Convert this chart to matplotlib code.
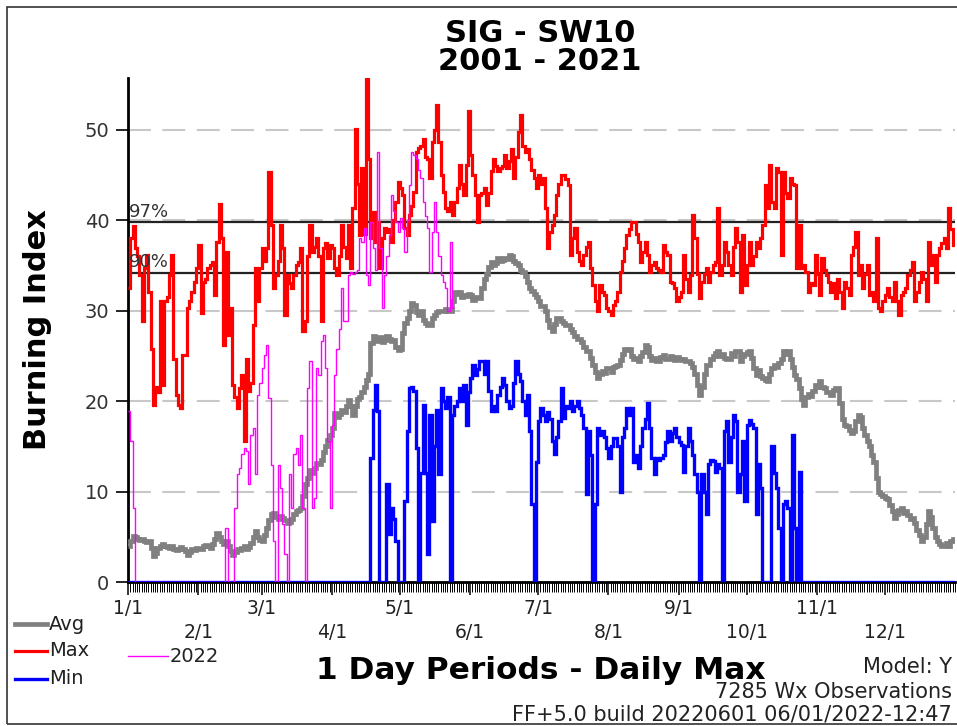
import numpy as np
import matplotlib
matplotlib.use("Agg")
import matplotlib.pyplot as plt
from matplotlib.lines import Line2D
from matplotlib.patches import Rectangle

# ---- data (one value per day, Jan 1 = day 0) ----
month_starts = [0, 31, 59, 90, 120, 151, 181, 212, 243, 273, 304, 334]
month_labels = ['1/1', '2/1', '3/1', '4/1', '5/1', '6/1',
                '7/1', '8/1', '9/1', '10/1', '11/1', '12/1']
yticks = [0, 10, 20, 30, 40, 50]
pct_levels = [39.8, 34.2]
pct_labels = ['97%', '90%']

avg_bi = [
    4.0, 4.5, 5.1, 5.0, 4.8, 4.6, 4.7, 4.5, 4.4, 4.5,
    3.8, 2.9, 3.2, 3.8, 4.0, 4.2, 4.0, 3.9, 3.8, 4.0,
    3.6, 3.5, 3.6, 3.9, 3.7, 3.4, 3.0, 3.3, 3.6, 3.5,
    3.8, 3.6, 3.7, 4.0, 4.1, 4.0, 3.8, 4.2, 4.8, 5.4,
    5.0, 4.5, 4.2, 4.5, 4.0, 3.4, 3.0, 3.3, 3.6, 3.5,
    3.8, 4.0, 3.7, 3.9, 4.3, 5.0, 5.6, 5.0, 4.6, 4.5,
    5.2, 6.0, 6.8, 7.5, 7.6, 7.2, 7.0, 7.3, 7.1, 6.8,
    6.5, 6.6, 7.0, 7.5, 7.8, 8.0, 8.2, 9.5, 10.8, 11.5,
    12.4, 12.0, 12.6, 13.2, 13.0, 13.5, 14.4, 15.0, 15.7, 16.3,
    17.0, 18.7, 18.2, 18.6, 19.0, 18.8, 19.5, 20.1, 19.4, 18.5,
    19.5, 20.2, 20.5, 21.0, 21.5, 22.3, 23.0, 26.4, 27.2, 27.0,
    26.6, 27.1, 26.5, 26.8, 27.2, 26.9, 26.6, 26.8, 26.0, 25.6,
    25.8, 27.5, 28.6, 29.2, 30.0, 30.8, 30.6, 29.8, 29.5, 29.9,
    29.0, 28.6, 28.4, 28.4, 29.2, 29.5, 29.8, 29.9, 30.0, 29.9,
    30.2, 30.0, 30.0, 31.0, 32.1, 31.8, 32.0, 31.5, 31.7, 31.6,
    31.8, 31.7, 31.2, 31.5, 31.4, 31.4, 32.5, 33.5, 34.0, 34.8,
    35.4, 35.0, 35.2, 35.8, 35.5, 35.6, 35.8, 35.7, 36.1, 36.0,
    35.5, 35.2, 35.0, 34.5, 34.3, 33.8, 33.2, 32.5, 32.2, 31.8,
    31.5, 31.0, 30.5, 30.5, 30.0, 29.0, 28.2, 27.7, 28.5, 29.2,
    29.2, 28.8, 28.6, 28.4, 28.4, 28.0, 27.6, 27.2, 26.9, 26.9,
    26.5, 26.0, 25.5, 25.5, 24.8, 24.0, 23.2, 22.5, 23.0, 23.3,
    23.1, 23.6, 23.6, 23.2, 23.8, 23.9, 24.0, 24.5, 25.2, 25.8,
    25.6, 25.8, 25.0, 24.6, 24.8, 24.4, 25.0, 25.4, 26.2, 26.0,
    25.0, 24.5, 24.8, 24.4, 24.4, 24.9, 25.1, 24.6, 24.7, 25.0,
    24.8, 24.5, 24.9, 24.7, 24.5, 24.7, 24.4, 24.4, 24.2, 23.8,
    23.0, 21.8, 20.7, 21.5, 23.0, 24.0, 24.0, 24.6, 25.0, 25.3,
    25.5, 25.0, 25.2, 24.8, 24.6, 24.7, 25.3, 25.0, 25.5, 25.5,
    24.4, 25.0, 25.2, 25.4, 25.5, 24.8, 23.6, 22.9, 23.4, 22.8,
    22.5, 22.3, 22.2, 23.0, 23.6, 24.0, 23.8, 24.2, 24.6, 25.5,
    25.2, 25.5, 24.6, 23.8, 22.9, 22.4, 21.4, 20.2, 19.6, 20.5,
    20.8, 20.6, 21.1, 21.8, 21.6, 22.2, 21.6, 21.4, 21.0, 21.0,
    20.7, 21.2, 21.4, 21.4, 19.8, 18.0, 17.4, 17.2, 16.8, 16.5,
    16.7, 17.8, 18.5, 18.2, 17.0, 16.2, 15.6, 15.0, 14.0, 13.3,
    11.5, 10.0, 9.7, 9.5, 9.3, 9.2, 8.5, 7.8, 7.1, 7.5,
    8.0, 8.2, 7.6, 7.8, 7.4, 7.0, 7.1, 6.5, 5.8, 5.2,
    4.5, 5.0, 6.4, 7.8, 7.2, 6.0, 5.0, 4.5, 4.2, 4.0,
    4.0, 4.3, 4.0, 4.5, 4.7,
]

max_bi = [
    32.5, 38.0, 39.3, 36.9, 36.0, 33.9, 28.8, 34.7, 36.1, 32.1,
    25.8, 19.6, 21.5, 21.0, 31.0, 21.8, 31.0, 31.5, 33.9, 36.1,
    24.7, 20.7, 19.6, 19.2, 25.1, 25.1, 30.3, 31.0, 32.1, 33.2,
    34.7, 37.2, 29.7, 33.2, 33.5, 34.7, 35.0, 35.4, 31.7, 37.6,
    41.8, 38.0, 26.2, 36.5, 27.3, 30.3, 21.8, 20.5, 19.2, 21.4,
    22.9, 15.6, 24.7, 21.1, 22.0, 28.4, 34.7, 31.0, 34.7, 36.9,
    35.5, 36.9, 45.3, 39.4, 32.5, 33.9, 35.5, 39.4, 36.9, 29.5,
    33.9, 33.0, 32.5, 33.9, 35.0, 35.4, 36.9, 27.7, 28.8, 36.0,
    39.4, 36.5, 37.0, 38.0, 36.0, 28.8, 36.9, 37.5, 35.8, 37.2,
    36.9, 34.7, 33.9, 36.0, 39.4, 37.0, 35.8, 39.4, 34.7, 41.3,
    50.1, 44.0, 38.3, 45.7, 38.5, 55.6, 46.8, 38.0, 40.9, 37.6,
    39.8, 34.7, 38.0, 39.1, 38.7, 39.0, 37.6, 40.0, 42.0, 44.2,
    43.5, 42.8, 39.1, 38.3, 40.6, 41.5, 43.1, 47.5, 48.0, 48.2,
    49.0, 47.0, 46.8, 44.6, 48.6, 50.0, 52.7, 48.6, 45.0, 43.1,
    41.3, 41.0, 42.0, 40.6, 42.0, 43.5, 46.1, 44.0, 42.8, 46.1,
    52.0, 47.2, 45.0, 42.8, 39.8, 42.8, 43.0, 43.5, 41.7, 43.0,
    45.4, 46.8, 46.0, 45.4, 45.7, 46.0, 47.2, 45.7, 46.5, 47.9,
    44.6, 47.0, 49.7, 51.6, 48.2, 47.5, 47.9, 46.8, 45.5, 44.6,
    43.5, 45.0, 44.0, 44.6, 41.3, 36.9, 38.7, 39.5, 40.6, 42.8,
    44.0, 45.0, 45.0, 44.5, 43.9, 36.1, 38.0, 39.1, 36.5, 35.5,
    35.0, 36.1, 37.0, 37.6, 34.7, 32.8, 31.0, 29.9, 32.8, 32.0,
    31.7, 30.3, 30.0, 29.5, 30.6, 31.0, 32.1, 34.3, 35.5, 36.9,
    38.3, 39.0, 39.8, 39.8, 38.5, 37.6, 35.4, 36.5, 37.6, 36.1,
    34.3, 35.0, 35.4, 34.7, 34.5, 34.3, 37.2, 36.5, 36.1, 33.2,
    33.0, 32.5, 31.0, 31.5, 32.1, 36.1, 33.5, 32.1, 33.9, 40.6,
    38.0, 34.0, 31.4, 33.2, 34.0, 34.7, 33.2, 34.3, 35.0, 35.4,
    41.3, 33.9, 35.0, 37.6, 36.5, 35.0, 33.9, 37.0, 39.1, 37.6,
    32.1, 38.3, 32.8, 35.0, 37.6, 35.0, 36.0, 37.6, 36.9, 38.0,
    39.4, 43.9, 41.3, 46.1, 42.0, 41.3, 45.7, 45.3, 36.1, 45.3,
    43.0, 42.4, 44.6, 44.0, 43.9, 34.7, 39.4, 34.7, 35.0, 34.3,
    32.1, 33.0, 32.8, 36.1, 34.0, 31.7, 35.8, 34.5, 33.9, 33.2,
    32.1, 33.0, 31.4, 33.5, 32.0, 30.3, 33.2, 32.5, 31.7, 36.1,
    37.0, 38.7, 33.9, 35.0, 32.5, 34.0, 35.0, 31.7, 32.0, 31.0,
    38.0, 30.3, 29.9, 31.0, 31.7, 32.5, 31.5, 31.0, 33.2, 31.0,
    29.5, 31.7, 32.0, 32.5, 33.9, 34.5, 35.4, 31.0, 32.0, 33.2,
    34.3, 33.5, 31.0, 37.6, 35.0, 36.1, 33.2, 36.1, 36.9, 37.5,
    38.0, 36.9, 41.3, 39.0, 37.2,
]

min_bi = [
    0, 0, 0, 0, 0, 0, 0, 0, 0, 0, 0, 0, 0, 0, 0, 0, 0, 0, 0, 0,
    0, 0, 0, 0, 0, 0, 0, 0, 0, 0, 0, 0, 0, 0, 0, 0, 0, 0, 0, 0,
    0, 0, 0, 0, 0, 0, 0, 0, 0, 0, 0, 0, 0, 0, 0, 0, 0, 0, 0, 0,
    0, 0, 0, 0, 0, 0, 0, 0, 0, 0, 0, 0, 0, 0, 0, 0, 0, 0, 0, 0,
    0, 0, 0, 0, 0, 0, 0, 0, 0, 0, 0, 0, 0, 0, 0, 0, 0, 0, 0, 0,
    0, 0, 0, 0, 0, 0, 0, 13.7, 19.0, 21.8,
    18.9, 0, 0, 0, 10.8, 5.3, 8.2, 7.0, 4.5, 0,
    0, 0, 9.0, 16.7, 21.4, 21.5, 21.1, 14.8, 0, 12.0,
    19.6, 12.0, 3.1, 18.5, 6.7, 15.0, 19.0, 11.9, 21.4, 20.0,
    19.2, 20.4, 0, 18.5, 19.5, 20.0, 21.4, 20.0, 21.8, 17.4,
    21.0, 22.5, 24.0, 22.9, 23.5, 24.4, 24.4, 23.0, 24.4, 21.1,
    18.9, 19.5, 18.9, 20.7, 21.5, 22.5, 21.8, 20.0, 19.2, 19.5,
    22.0, 24.4, 23.0, 22.2, 20.0, 18.5, 20.7, 16.7, 8.6, 0,
    13.3, 17.8, 19.2, 18.5, 17.8, 18.8, 18.0, 15.6, 14.1, 16.0,
    17.8, 21.4, 18.1, 19.5, 19.2, 20.0, 18.9, 19.5, 20.0, 19.2,
    18.5, 17.0, 9.7, 16.7, 14.0, 0, 8.6, 17.0, 16.3, 16.7,
    16.0, 14.8, 13.7, 15.0, 15.9, 15.9, 15.0, 10.0, 16.0, 17.0,
    19.2, 18.5, 19.2, 13.3, 14.0, 12.6, 15.0, 17.0, 18.0, 19.8,
    17.0, 13.7, 11.9, 13.7, 13.5, 13.7, 14.0, 15.5, 16.7, 15.6,
    16.5, 17.0, 16.0, 15.5, 15.1, 12.2, 15.0, 17.0, 15.6, 14.0,
    11.9, 10.0, 0, 11.9, 10.0, 7.5, 13.0, 13.5, 13.4, 12.2,
    13.0, 12.6, 0, 16.7, 17.8, 13.3, 16.0, 18.5, 17.8, 10.0,
    11.9, 15.6, 8.9, 17.4, 17.9, 17.5, 17.0, 7.5, 13.0, 10.4,
    0, 0, 0, 0, 15.0, 12.0, 10.4, 6.0, 0, 8.6,
    9.0, 8.2, 0, 16.3, 6.0, 0, 12.2, 0, 0, 0,
    0, 0, 0, 0, 0, 0, 0, 0, 0, 0, 0, 0, 0, 0, 0, 0, 0, 0, 0, 0,
    0, 0, 0, 0, 0, 0, 0, 0, 0, 0, 0, 0, 0, 0, 0, 0, 0, 0, 0, 0,
    0, 0, 0, 0, 0, 0, 0, 0, 0, 0, 0, 0, 0, 0, 0, 0, 0, 0, 0, 0,
    0, 0, 0, 0, 0,
]

bi_2022 = [
    18.9, 15.6, 8.2, 0, 0, 0, 0, 0, 0, 0,
    0, 0, 0, 0, 0, 0, 0, 0, 0, 0,
    0, 0, 0, 0, 0, 0, 0, 0, 0, 0,
    0, 0, 0, 0, 0, 0, 0, 0, 0, 0,
    0, 0, 0, 6.0, 0, 0, 0, 8.2, 11.9, 12.6,
    14.1, 14.8, 14.5, 10.8, 16.3, 17.0, 11.9, 20.7, 22.0, 23.6,
    25.1, 26.2, 20.3, 12.9, 4.5, 0, 12.9, 10.4, 6.4, 3.1,
    0, 11.9, 8.2, 14.1, 14.8, 12.9, 16.3, 8.2, 0, 21.4,
    24.4, 8.2, 9.3, 23.6, 22.9, 26.6, 27.3, 23.6, 15.6, 8.2,
    17.4, 22.9, 25.8, 28.0, 32.5, 28.8, 28.8, 33.9, 34.3, 34.0,
    34.3, 34.5, 38.0, 37.6, 39.1, 33.9, 32.8, 39.8, 36.9, 34.5,
    47.5, 36.9, 30.3, 33.9, 36.0, 38.3, 42.8, 41.0, 39.8, 38.7,
    40.2, 39.1, 36.5, 40.0, 43.9, 47.5, 47.2, 46.8, 45.5, 44.6,
    42.0, 40.5, 39.1, 34.3, 38.7, 42.0, 38.7, 36.0, 33.9, 33.2,
    32.5, 29.9, 37.6, 30.3,
]

W, H = 957, 726


def fx(px):
    return px / W


def fy(py):
    return 1 - py / H


fig = plt.figure(figsize=(W / 100, H / 100), dpi=100)
ax = fig.add_axes([fx(128), fy(582), fx(955) - fx(128), fy(78) - fy(582)])

# series drawn as daily steps
ax.stairs(avg_bi, np.arange(len(avg_bi) + 1), baseline=None, color='#808080', lw=3.4, zorder=3)
ax.stairs(max_bi, np.arange(len(max_bi) + 1), baseline=None, color='#ff0000', lw=2.3, zorder=4)
ax.stairs(min_bi, np.arange(len(min_bi) + 1), baseline=None, color='#0000ff', lw=2.4, zorder=5)
ax.stairs(bi_2022, np.arange(len(bi_2022) + 1), baseline=None, color='#ff00ff', lw=1.0, zorder=6)

# percentile lines
for lev, lab in zip(pct_levels, pct_labels):
    ax.axhline(lev, color='#222222', lw=1.6, zorder=2)
    ax.text(0.6, lev + 0.15, lab, ha='left', va='bottom', fontsize=13, color='#333333', zorder=7)

ax.set_xlim(0, 365)
ax.set_ylim(0, 55.7)

ax.set_yticks(yticks)
ax.set_yticklabels([str(v) for v in yticks])
ax.yaxis.grid(True, color='#c8c8c8', lw=1.5, ls=(0, (11, 5.5)), zorder=1)
ax.set_axisbelow(True)

ax.set_xticks(month_starts)
ax.set_xticklabels([lab if i % 2 == 0 else '\n' + lab for i, lab in enumerate(month_labels)],
                   linespacing=1.3)
ax.set_xticks(np.arange(0, 366), minor=True)

ax.tick_params(axis='y', direction='out', length=8.5, width=1.2, pad=5,
               labelsize=14, labelcolor='#333333')
ax.tick_params(axis='x', which='major', direction='out', length=9.5, width=1.1, pad=3,
               labelsize=13.5, labelcolor='#222222')
ax.tick_params(axis='x', which='minor', direction='out', length=7, width=0.7)

for side in ['top', 'right']:
    ax.spines[side].set_visible(False)
for side in ['left', 'bottom']:
    ax.spines[side].set_linewidth(2)
    ax.spines[side].set_color('black')

# titles and labels
fig.text(fx(540), fy(33), 'SIG - SW10', ha='center', va='center', fontsize=22, fontweight='bold')
fig.text(fx(540), fy(61), '2001 - 2021', ha='center', va='center', fontsize=22, fontweight='bold')
fig.text(fx(38), fy(330), 'Burning Index', rotation=90, ha='center', va='center',
         fontsize=22, fontweight='bold')
fig.text(fx(541), fy(679), '1 Day Periods - Daily Max', ha='center', va='baseline',
         fontsize=22.5, fontweight='bold')

fig.text(fx(952), fy(673), 'Model: Y', ha='right', va='baseline', fontsize=15, color='#222222')
fig.text(fx(952), fy(698), '7285 Wx Observations', ha='right', va='baseline', fontsize=15, color='#222222')
fig.text(fx(952), fy(721), 'FF+5.0 build 20220601 06/01/2022-12:47', ha='right', va='baseline',
         fontsize=15, color='#222222')

# legend drawn by hand, like the original
legend_items = [('Avg', '#808080', 3.4, 15, 47, 624),
                ('Max', '#ff0000', 2.3, 15, 47, 651),
                ('Min', '#0000ff', 2.4, 15, 47, 679),
                ('2022', '#ff00ff', 1.0, 128, 168, 656)]
for lab, col, lw, x0, x1, yy in legend_items:
    fig.add_artist(Line2D([fx(x0), fx(x1)], [fy(yy), fy(yy)], color=col, lw=lw,
                          transform=fig.transFigure))
    fig.text(fx(x1 + 2), fy(yy), lab, ha='left', va='center', fontsize=14, color='#222222')

# outer frame
fig.add_artist(Rectangle((fx(6.5), fy(724)), 1.2, fy(6.5) - fy(724), fill=False,
                         edgecolor='#333333', lw=1.2, transform=fig.transFigure))

fig.savefig('out.png', dpi=100)
